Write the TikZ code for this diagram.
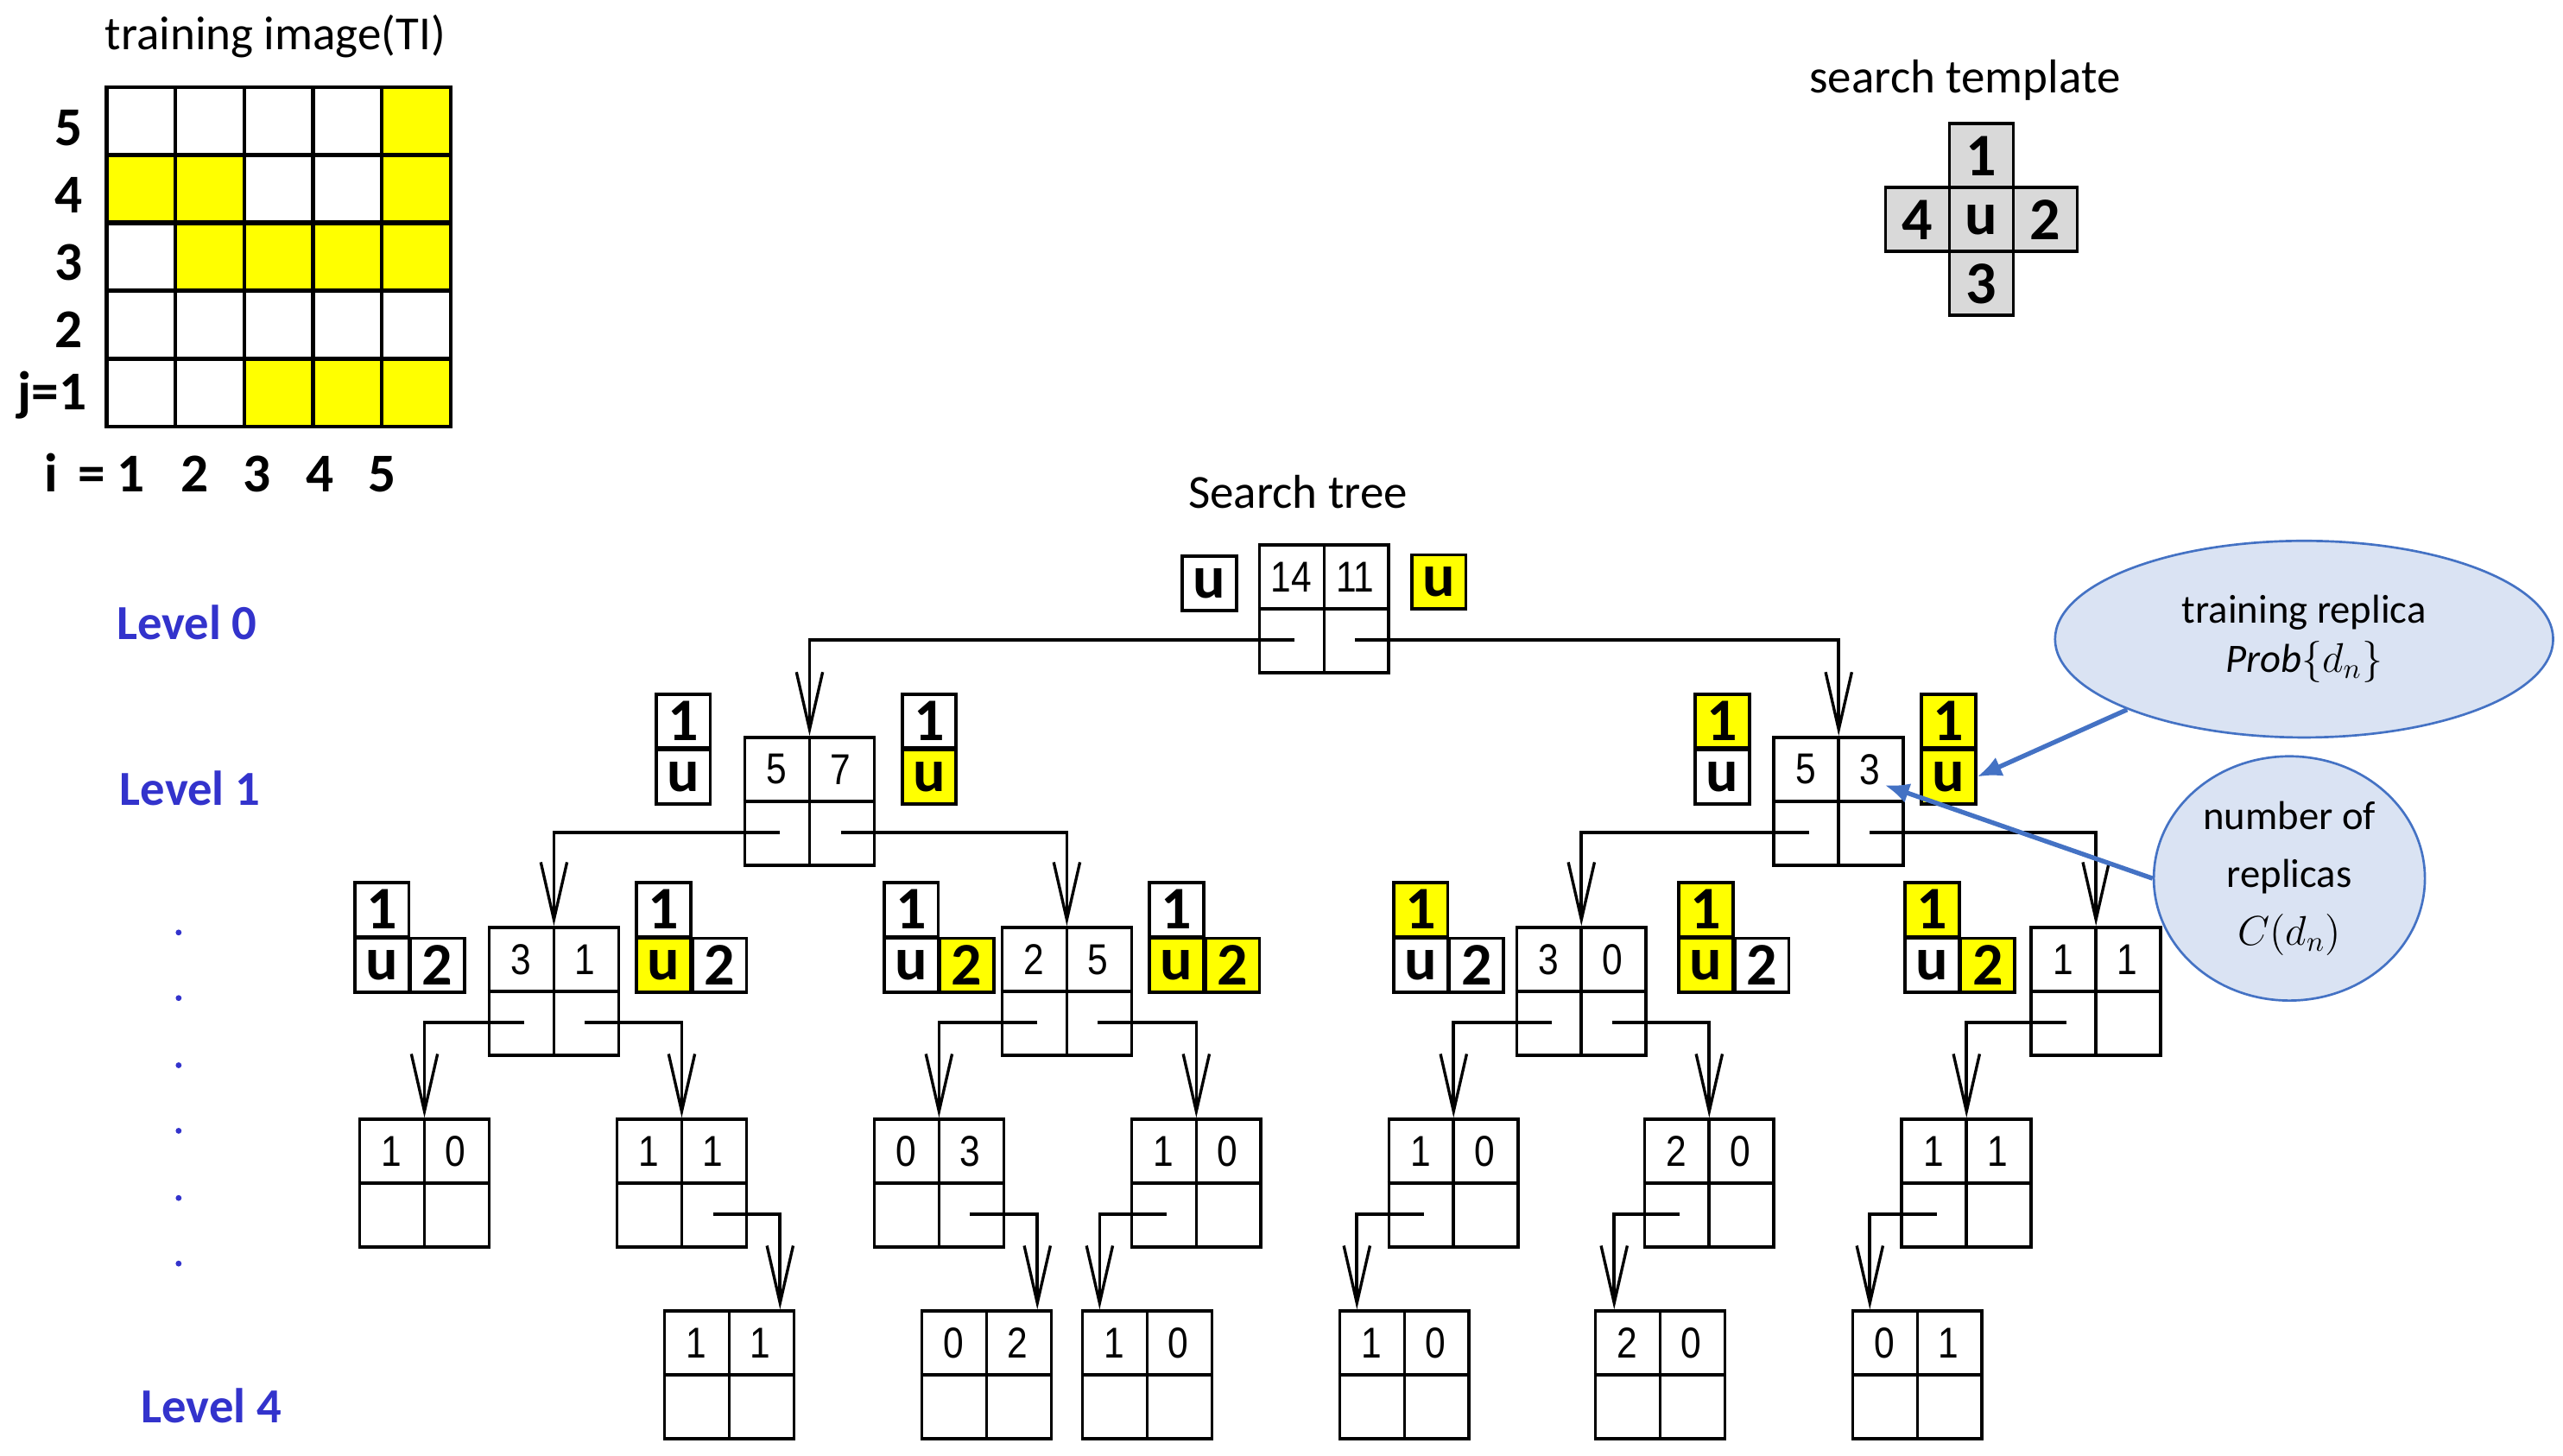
\documentclass[tikz,border=0pt]{standalone}
\usepackage{fontspec}
\setmainfont{Carlito}
\newfontfamily\numfont{Liberation Sans}
\usetikzlibrary{calc,arrows.meta,shapes.geometric}
\definecolor{yel}{RGB}{255,255,0}
\definecolor{lvl}{RGB}{51,51,204}
\definecolor{ellfill}{RGB}{218,227,243}
\definecolor{ellline}{RGB}{68,114,196}
\tikzset{
 tb/.style={draw,line width=1.1pt,minimum width=1.58cm,minimum height=1.56cm,inner sep=0pt},
 num/.style={font=\numfont\fontsize{15}{15}\selectfont,inner sep=0pt},
 lab/.style={draw,line width=1.1pt,minimum width=0.66cm,minimum height=0.66cm,inner sep=0pt,font=\bfseries\fontsize{21}{21}\selectfont},
 tmp/.style={draw,line width=1.1pt,fill=black!15,minimum size=0.78cm,inner sep=0pt,font=\bfseries\fontsize{21}{21}\selectfont},
 conn/.style={line width=1.1pt,-{Straight Barb[length=0.7cm,width=0.32cm,line width=1pt]}},
 lev/.style={text=lvl,font=\bfseries\fontsize{17}{17}\selectfont},
 ttl/.style={font=\fontsize{16.5}{16.5}\selectfont},
 ell/.style={draw=ellline,fill=ellfill,ellipse,line width=0.8pt},
 blarr/.style={draw=ellline,line width=1.6pt,-{Latex[length=0.3cm,width=0.25cm]}},
 axl/.style={font=\bfseries\fontsize{19}{19}\selectfont,inner sep=0pt},
 axb/.style={axl,anchor=base}
}
\newcommand\tbx[5]{%
 \node[tb] (#1) at (#2,#3) {};
 \draw[line width=1.1pt] (#1.north)--(#1.south) (#1.west)--(#1.east);
 \node[num] at ($(#1)+(-20,-19.5)$) {\scalebox{0.85}[1]{#4}};
 \node[num] at ($(#1)+(19,-19.5)$) {\scalebox{0.85}[1]{#5}};
 \coordinate (#1-l) at ($(#1)+(-18,19)$);
 \coordinate (#1-r) at ($(#1)+(19,19)$);
}
\begin{document}
\begin{tikzpicture}[x=0.02cm,y=-0.02cm]
\useasboundingbox (0,0) rectangle (1564,888.4);
% training image
\node[ttl] (tit) at (168,22) {training image(TI)};
\foreach \r/\row in {1/{0,0,0,0,1},2/{1,1,0,0,1},3/{0,1,1,1,1},4/{0,0,0,0,0},5/{0,0,1,1,1}}{
 \foreach \v [count=\c] in \row {
  \ifnum\v=1 \def\fc{yel}\else\def\fc{white}\fi
  \node[draw,line width=1.3pt,fill=\fc,minimum width=0.84cm,minimum height=0.82cm,inner sep=0pt] (ti\r\c) at ({65+42*(\c-0.5)},{53+41.5*(\r-0.5)}) {};
 }}
\node[axl] (r5) at (42,78) {5};
\node[axl] (r4) at (42,119) {4};
\node[axl] (r3) at (42,160) {3};
\node[axl] (r2) at (42,201) {2};
\node[axl] (r1) at (32,241) {j=1};
\node[axb] (ci) at (31,300) {i};
\node[axb] (ce) at (56,300) {=};
\node[axb] (c1) at (80,300) {1};
\node[axb] (c2) at (119,300) {2};
\node[axb] (c3) at (157,300) {3};
\node[axb] (c4) at (195,300) {4};
\node[axb] (c5) at (233,300) {5};
% search template
\node[ttl] (stt) at (1199,49) {search template};
\node[tmp] (t1) at (1209,95) {1};
\node[tmp] (tu) at (1209,134) {u};
\node[tmp] (t4) at (1170,134) {4};
\node[tmp] (t2) at (1248,134) {2};
\node[tmp] (t3) at (1209,173) {3};
% levels
\node[lev] (lv0) at (114,380) {Level 0};
\node[lev] (lv1) at (116,481) {Level 1};
\node[lev] (lv4) at (129,858) {Level 4};
\foreach \y in {569,609,650,690,731,771} \fill[lvl] (109,\y) circle (1.8);
\node[ttl] (st) at (792,300) {Search tree};
% tree boxes
\tbx{R}{808}{371.5}{14}{11}
\tbx{A}{494}{489}{5}{7}
\tbx{B}{1122}{489}{5}{3}
\tbx{Aa}{338}{605}{3}{1}
\tbx{Ab}{651}{605}{2}{5}
\tbx{Ba}{965}{605}{3}{0}
\tbx{Bb}{1279}{605}{1}{1}
\tbx{C1}{259}{722}{1}{0}
\tbx{C2}{416}{722}{1}{1}
\tbx{C3}{573}{722}{0}{3}
\tbx{C4}{730}{722}{1}{0}
\tbx{C5}{887}{722}{1}{0}
\tbx{C6}{1043}{722}{2}{0}
\tbx{C7}{1200}{722}{1}{1}
\tbx{D1}{445}{839}{1}{1}
\tbx{D2}{602}{839}{0}{2}
\tbx{D3}{700}{839}{1}{0}
\tbx{D4}{857}{839}{1}{0}
\tbx{D5}{1013}{839}{2}{0}
\tbx{D6}{1170}{839}{0}{1}
% connectors
\draw[conn] (R-l) -| (A.north);
\draw[conn] (R-r) -| (B.north);
\draw[conn] (A-l) -| (Aa.north);
\draw[conn] (A-r) -| (Ab.north);
\draw[conn] (B-l) -| (Ba.north);
\draw[conn] (B-r) -| (Bb.north);
\draw[conn] (Aa-l) -| (C1.north);
\draw[conn] (Aa-r) -| (C2.north);
\draw[conn] (Ab-l) -| (C3.north);
\draw[conn] (Ab-r) -| (C4.north);
\draw[conn] (Ba-l) -| (C5.north);
\draw[conn] (Ba-r) -| (C6.north);
\draw[conn] (Bb-l) -| (C7.north);
\draw[conn] (C2-r) -| ($(D1.north)+(31,0)$);
\draw[conn] (C3-r) -| ($(D2.north)+(31,0)$);
\draw[conn] (C4-l) -| ($(D3.north)+(-29,0)$);
\draw[conn] (C5-l) -| ($(D4.north)+(-29,0)$);
\draw[conn] (C6-l) -| ($(D5.north)+(-28,0)$);
\draw[conn] (C7-l) -| ($(D6.north)+(-29,0)$);
% labels level 0
\node[lab,fill=white] (l0a) at (738,356) {u};
\node[lab,fill=yel] (l0b) at (878,355) {u};
% level 1
\node[lab,fill=white] (l1a1) at (417,440) {1};
\node[lab,fill=white] (l1au) at (417,474) {u};
\node[lab,fill=white] (l1b1) at (567,440) {1};
\node[lab,fill=yel] (l1bu) at (567,474) {u};
\node[lab,fill=yel] (l1c1) at (1051,440) {1};
\node[lab,fill=white] (l1cu) at (1051,474) {u};
\node[lab,fill=yel] (l1d1) at (1189,440) {1};
\node[lab,fill=yel] (l1du) at (1189,474) {u};
% level 2 labels
\foreach \n/\x/\ca/\cb/\cc in {p/233/white/white/white, q/405/white/yel/white, r/556/white/white/yel, s/718/white/yel/yel, t/867/yel/white/white, v/1041/yel/yel/white, w/1179/yel/white/yel}{
 \node[lab,fill=\ca] (\n1) at (\x,555) {1};
 \node[lab,fill=\cb] (\n u) at (\x,589) {u};
 \node[lab,fill=\cc] (\n2) at (\x+34,589) {2};
}
% ellipses
\node[ell,minimum width=6.08cm,minimum height=2.4cm,align=center,font=\fontsize{14}{17}\selectfont] (e1) at (1406,390) {training replica\\ $\mathit{Prob}\{d_n\}$};
\node[ell,minimum width=3.3cm,minimum height=2.48cm,align=center,font=\fontsize{14}{20}\selectfont] (e2) at (1397,536) {number of\\ replicas\\ $C(d_n)$};
\draw[blarr] (1298,433) -- (l1du.east);
\draw[blarr] (e2.west) -- ($(B)+(28,-10)$);
\end{tikzpicture}
\end{document}
